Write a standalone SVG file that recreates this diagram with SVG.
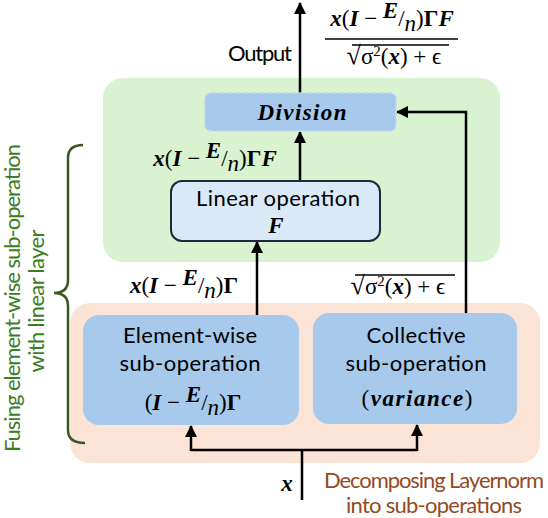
<svg xmlns="http://www.w3.org/2000/svg" width="548" height="518" viewBox="0 0 548 518">
<defs>
<marker id="ah" viewBox="0 0 12 12" refX="11" refY="6" markerWidth="12" markerHeight="12" markerUnits="userSpaceOnUse" orient="auto">
<path d="M0,0 L12,6 L0,12 Z" fill="#000"/>
</marker>
</defs>
<style>
.lbl{font-family:Lato,"Liberation Sans",sans-serif;font-size:22px;fill:#000}
.m{font-family:"Liberation Serif","DejaVu Serif",serif;font-size:23px;fill:#000}
.bi{font-weight:bold;font-style:italic}
.b{font-weight:bold}
.i{font-style:italic}
.wire{fill:none;stroke:#000;stroke-width:2.5}
.grn{fill:#3b7d23}
.brn{fill:#944a1e}
</style>
<rect x="103" y="78" width="397" height="184" rx="20" fill="#d9f2d0"/>
<rect x="70" y="303" width="470" height="160" rx="20" fill="#fbe3d6"/>

<g id="connectors">
<path class="wire" d="M300,93 V3" marker-end="url(#ah)"/>
<path class="wire" d="M300,181 V132" marker-end="url(#ah)"/>
<path class="wire" d="M257,315 V242" marker-end="url(#ah)"/>
<path class="wire" d="M466,315 V112 H397" marker-end="url(#ah)"/>
<path class="wire" d="M302,500 V450 M191,450 H417"/>
<path class="wire" d="M191,451 V426" marker-end="url(#ah)"/>
<path class="wire" d="M417,451 V425" marker-end="url(#ah)"/>
</g>

<g id="division">
<rect x="205" y="93" width="191" height="38" rx="6" fill="#a6c9ec" stroke="#c2d8ef" stroke-width="1.5" stroke-dasharray="5,3"/>
<text x="302" y="120" text-anchor="middle" class="m bi" font-size="24" textLength="89">Division</text>
</g>

<g id="linear">
<rect x="171" y="181" width="209" height="60" rx="11" fill="#dae9f8" stroke="#1c2b3a" stroke-width="2"/>
<text x="278" y="206" text-anchor="middle" class="lbl" textLength="164">Linear operation</text>
<text x="276" y="233" text-anchor="middle" class="m bi" font-size="22">F</text>
</g>

<g id="elementwise">
<rect x="83" y="315" width="216" height="110" rx="16" fill="#a6c9ec"/>
<text x="190" y="343" text-anchor="middle" class="lbl" textLength="134">Element-wise</text>
<text x="190" y="371" text-anchor="middle" class="lbl" textLength="141">sub-operation</text>
<text x="193" y="410" text-anchor="middle" class="m"><tspan>(</tspan><tspan class="bi">I</tspan><tspan> − </tspan><tspan class="bi" dy="-8">E</tspan><tspan dy="8">/</tspan><tspan class="i" dy="5">n</tspan><tspan dy="-5">)</tspan><tspan class="b">Γ</tspan></text>
</g>

<g id="collective">
<rect x="313" y="313" width="204" height="111" rx="16" fill="#a6c9ec"/>
<text x="416" y="343" text-anchor="middle" class="lbl" textLength="99">Collective</text>
<text x="416" y="371" text-anchor="middle" class="lbl" textLength="141">sub-operation</text>
<text x="417" y="406" text-anchor="middle" class="m" textLength="111"><tspan>(</tspan><tspan class="bi">variance</tspan><tspan>)</tspan></text>
</g>

<g id="labels">
<text x="292" y="61" text-anchor="end" class="lbl" textLength="64">Output</text>
<text x="392" y="26" text-anchor="middle" class="m"><tspan class="bi">x</tspan><tspan>(</tspan><tspan class="bi">I</tspan><tspan> − </tspan><tspan class="bi" dy="-8">E</tspan><tspan dy="8">/</tspan><tspan class="i" dy="5">n</tspan><tspan dy="-5">)</tspan><tspan class="b">Γ</tspan><tspan class="bi">F</tspan></text>
<line x1="325" y1="39" x2="458" y2="39" stroke="#000" stroke-width="1.3"/>
<text x="394" y="64" text-anchor="middle" class="m" font-size="22"><tspan font-size="26">√</tspan><tspan>σ</tspan><tspan dy="-8" font-size="15">2</tspan><tspan dy="8">(</tspan><tspan class="bi">x</tspan><tspan>) + ϵ</tspan></text>
<line x1="352" y1="45" x2="449" y2="45" stroke="#000" stroke-width="1.3"/>

<text x="215" y="166" text-anchor="middle" class="m"><tspan class="bi">x</tspan><tspan>(</tspan><tspan class="bi">I</tspan><tspan> − </tspan><tspan class="bi" dy="-8">E</tspan><tspan dy="8">/</tspan><tspan class="i" dy="5">n</tspan><tspan dy="-5">)</tspan><tspan class="b">Γ</tspan><tspan class="bi">F</tspan></text>
<text x="184" y="293" text-anchor="middle" class="m"><tspan class="bi">x</tspan><tspan>(</tspan><tspan class="bi">I</tspan><tspan> − </tspan><tspan class="bi" dy="-8">E</tspan><tspan dy="8">/</tspan><tspan class="i" dy="5">n</tspan><tspan dy="-5">)</tspan><tspan class="b">Γ</tspan></text>
<text x="398" y="294" text-anchor="middle" class="m" font-size="22"><tspan font-size="26">√</tspan><tspan>σ</tspan><tspan dy="-8" font-size="15">2</tspan><tspan dy="8">(</tspan><tspan class="bi">x</tspan><tspan>) + ϵ</tspan></text>
<line x1="355" y1="275" x2="455" y2="275" stroke="#000" stroke-width="1.3"/>
<text x="287" y="491" text-anchor="middle" class="m bi">x</text>
<text x="434" y="488" text-anchor="middle" class="lbl brn" textLength="220">Decomposing Layernorm</text>
<text x="434" y="513" text-anchor="middle" class="lbl brn" textLength="176">into sub-operations</text>
</g>

<g id="brace">
<path d="M83,145 Q68,145 68,158 V280 Q68,293 54,293 Q68,293 68,306 V430 Q68,443 85,443" fill="none" stroke="#385723" stroke-width="2.5"/>
<text transform="translate(20,298) rotate(-90)" text-anchor="middle" class="lbl grn" textLength="308">Fusing element-wise sub-operation</text>
<text transform="translate(44,301) rotate(-90)" text-anchor="middle" class="lbl grn" textLength="143">with linear layer</text>
</g>
</svg>
